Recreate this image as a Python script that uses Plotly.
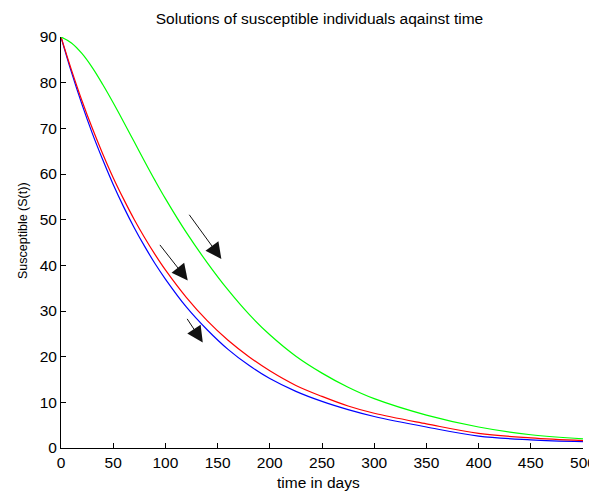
import plotly.graph_objects as go

t_days = [0, 10, 20, 30, 40, 50, 60, 70, 80, 90, 100, 120, 140, 160, 180, 200,
          225, 250, 275, 300, 350, 400, 450, 500]
s_green = [90, 88.7, 86.4, 83.3, 79.6, 75.6, 71.4, 67.1, 62.8, 58.6, 54.6, 47.2,
           40.6, 34.6, 29.3, 24.8, 20.1, 16.4, 13.3, 10.8, 7.2, 4.6, 2.9, 2.0]
s_red = [90, 82.8, 76.1, 70.0, 64.4, 59.2, 54.5, 50.1, 46.1, 42.4, 39.0, 33.0,
         27.9, 23.6, 20.0, 16.9, 13.7, 11.3, 9.2, 7.6, 5.3, 3.2, 2.2, 1.6]
s_blue = [90, 82.3, 75.3, 68.9, 63.1, 57.7, 52.8, 48.3, 44.2, 40.4, 37.0, 30.9,
          25.9, 21.6, 18.1, 15.2, 12.4, 10.2, 8.4, 6.9, 4.6, 2.6, 1.8, 1.4]

x_ticks = [0, 50, 100, 150, 200, 250, 300, 350, 400, 450, 500]
y_ticks = [0, 10, 20, 30, 40, 50, 60, 70, 80, 90]

# arrows: (tail_t, tail_S, tip_t, tip_S)
arrows = [(121.8, 51.4, 153.6, 41.4),
          (93.6, 44.8, 121.4, 36.7),
          (119.9, 28.6, 135.8, 23.1)]

# The page body has an 8px default margin, so the figure is 8px smaller
W, H = 589, 485

fig = go.Figure()
for ys, col in [(s_blue, "#0000ff"), (s_red, "#ff0000"), (s_green, "#00ff00")]:
    fig.add_trace(go.Scatter(x=t_days, y=ys, mode="lines",
                             line=dict(color=col, width=1.2, shape="spline"),
                             showlegend=False, hoverinfo="skip"))

annotations = []
for x0, y0, x1, y1 in arrows:
    annotations.append(dict(x=x1, y=y1, ax=x0, ay=y0, xref="x", yref="y",
                            axref="x", ayref="y", text="", showarrow=True,
                            arrowhead=2, arrowsize=3.2, arrowwidth=1,
                            arrowcolor="#111111"))

font_family = "Liberation Sans, Arial, sans-serif"
fs = 15.5
annotations += [
    dict(text="time in days", x=0.5, xref="paper", xshift=-4, y=0, yref="paper",
         yshift=-34, xanchor="center", yanchor="middle", showarrow=False,
         font=dict(size=fs)),
    dict(text="Susceptible (S(t))", x=0, xref="paper", xshift=-38,
         y=0.528, yref="paper", textangle=-90, xanchor="center",
         yanchor="middle", showarrow=False, font=dict(size=12.5)),
]

fig.update_layout(
    width=W, height=H,
    margin=dict(l=53, r=14, t=29, b=45),
    paper_bgcolor="white", plot_bgcolor="white",
    font=dict(family=font_family, size=fs, color="black"),
    title=dict(text="Solutions of susceptible individuals aqainst time",
               x=311.5 / W, xanchor="center", xref="container",
               y=1 - 10.5 / H, yanchor="middle", yref="container",
               font=dict(size=fs, color="black")),
    xaxis=dict(range=[0, 500], tickvals=x_ticks, ticks="inside", ticklen=5,
               tickcolor="black", showline=True, linecolor="black", linewidth=1,
               showgrid=False, zeroline=False, mirror=False, automargin=False,
               tickfont=dict(size=fs)),
    yaxis=dict(range=[0, 90], tickvals=y_ticks, ticks="inside", ticklen=5,
               tickcolor="black", showline=True, linecolor="black", linewidth=1,
               showgrid=False, zeroline=False, mirror=False, automargin=False,
               tickfont=dict(size=fs)),
    annotations=annotations,
)

fig.write_html("out.html")
